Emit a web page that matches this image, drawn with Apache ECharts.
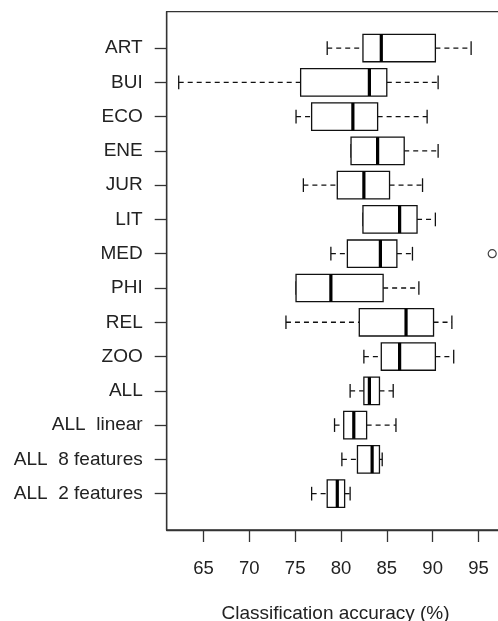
<!DOCTYPE html>
<html>
<head>
<meta charset="utf-8">
<script src="https://cdn.jsdelivr.net/npm/echarts@6/dist/echarts.min.js"></script>
<style>html,body{margin:0;padding:0;background:#fff}#c{width:498px;height:621px}</style>
</head>
<body>
<div id="c"></div>
<script>
const categories = ['ART','BUI','ECO','ENE','JUR','LIT','MED','PHI','REL','ZOO','ALL','ALL  linear','ALL  8 features','ALL  2 features'];
const lowWhisker  = [78.5, 62.3, 75.1, 81.1, 75.9, 82.4, 78.9, 75.1, 74.0, 82.5, 81.0, 79.3, 80.1, 76.8];
const q1          = [82.4, 75.6, 76.8, 81.1, 79.6, 82.4, 80.7, 75.1, 82.0, 84.4, 82.5, 80.3, 81.8, 78.5];
const median      = [84.4, 83.1, 81.3, 84.0, 82.5, 86.4, 84.3, 78.9, 87.1, 86.4, 83.1, 81.4, 83.4, 79.6];
const q3          = [90.3, 85.0, 84.0, 86.9, 85.3, 88.3, 86.1, 84.6, 90.1, 90.3, 84.2, 82.8, 84.2, 80.4];
const highWhisker = [94.2, 90.6, 89.4, 90.6, 88.9, 90.3, 87.8, 88.5, 92.1, 92.3, 85.7, 86.0, 84.5, 81.0];
const outlierCategory = ['MED'];
const outlierValue = [96.5];
const xTicks = [65, 70, 75, 80, 85, 90, 95];

const boxData = categories.map((c, i) => [i, lowWhisker[i], q1[i], median[i], q3[i], highWhisker[i]]);
const outData = outlierCategory.map((c, i) => [outlierValue[i], categories.indexOf(c)]);

const FONT = '"Liberation Sans", Arial, Helvetica, sans-serif';
const INK = '#222';

const chart = echarts.init(document.getElementById('c'), null, {renderer: 'canvas'});
chart.setOption({
  animation: false,
  backgroundColor: '#fff',
  grid: {left: 166.7, top: 11.7, right: -6.4, bottom: 91, outerBoundsMode: 'none', containLabel: false,
    show: true, borderColor: '#333', borderWidth: 1.3, backgroundColor: 'transparent'},
  xAxis: {
    type: 'value', min: 60.99, max: 97.83,
    name: 'Classification accuracy (%)', nameLocation: 'middle', nameGap: 74,
    nameTextStyle: {fontFamily: FONT, fontSize: 19, color: INK},
    axisLine: {show: true, onZero: false, lineStyle: {color: '#333', width: 1.3}},
    axisTick: {show: true, length: 12, customValues: xTicks, lineStyle: {color: '#333', width: 1.3}},
    axisLabel: {customValues: xTicks, margin: 29, fontFamily: FONT, fontSize: 18.5, color: INK},
    splitLine: {show: false}
  },
  yAxis: {
    type: 'value', inverse: true, min: -1.06, max: 14.06,
    axisLine: {show: true, onZero: false, lineStyle: {color: '#333', width: 1.3}},
    axisTick: {show: true, length: 12, customValues: categories.map((c, i) => i), lineStyle: {color: '#333', width: 1.3}},
    axisLabel: {customValues: categories.map((c, i) => i), margin: 24, fontFamily: FONT, fontSize: 19, color: INK,
      formatter: v => categories[Math.round(v)]},
    splitLine: {show: false}
  },
  series: [{
    type: 'custom',
    data: boxData,
    encode: {x: [1, 2, 3, 4, 5], y: 0},
    renderItem: function (params, api) {
      const y = api.value(0);
      const pL = api.coord([api.value(1), y]);
      const p1 = api.coord([api.value(2), y]);
      const pM = api.coord([api.value(3), y]);
      const p3 = api.coord([api.value(4), y]);
      const pH = api.coord([api.value(5), y]);
      const unit = api.size([0, 1])[1];
      const h = unit * 0.8;
      const cap = h / 4;
      const line = {stroke: '#111', lineWidth: 1.3, fill: null};
      const dash = {stroke: '#111', lineWidth: 1.3, lineDash: [5, 4], fill: null};
      return {
        type: 'group',
        children: [
          {type: 'line', shape: {x1: pL[0], y1: pL[1], x2: p1[0], y2: p1[1]}, style: dash},
          {type: 'line', shape: {x1: p3[0], y1: p3[1], x2: pH[0], y2: pH[1]}, style: dash},
          {type: 'line', shape: {x1: pL[0], y1: pL[1] - cap, x2: pL[0], y2: pL[1] + cap}, style: line},
          {type: 'line', shape: {x1: pH[0], y1: pH[1] - cap, x2: pH[0], y2: pH[1] + cap}, style: line},
          {type: 'rect', shape: {x: p1[0], y: p1[1] - h / 2, width: p3[0] - p1[0], height: h}, style: {stroke: '#111', lineWidth: 1.3, fill: '#fff'}},
          {type: 'line', shape: {x1: pM[0], y1: pM[1] - h / 2, x2: pM[0], y2: pM[1] + h / 2}, style: {stroke: '#000', lineWidth: 3.2}}
        ]
      };
    }
  }, {
    type: 'scatter',
    data: outData,
    symbol: 'circle',
    symbolSize: 8,
    itemStyle: {color: '#fff', borderColor: '#111', borderWidth: 1.2}
  }]
});
</script>
</body>
</html>
